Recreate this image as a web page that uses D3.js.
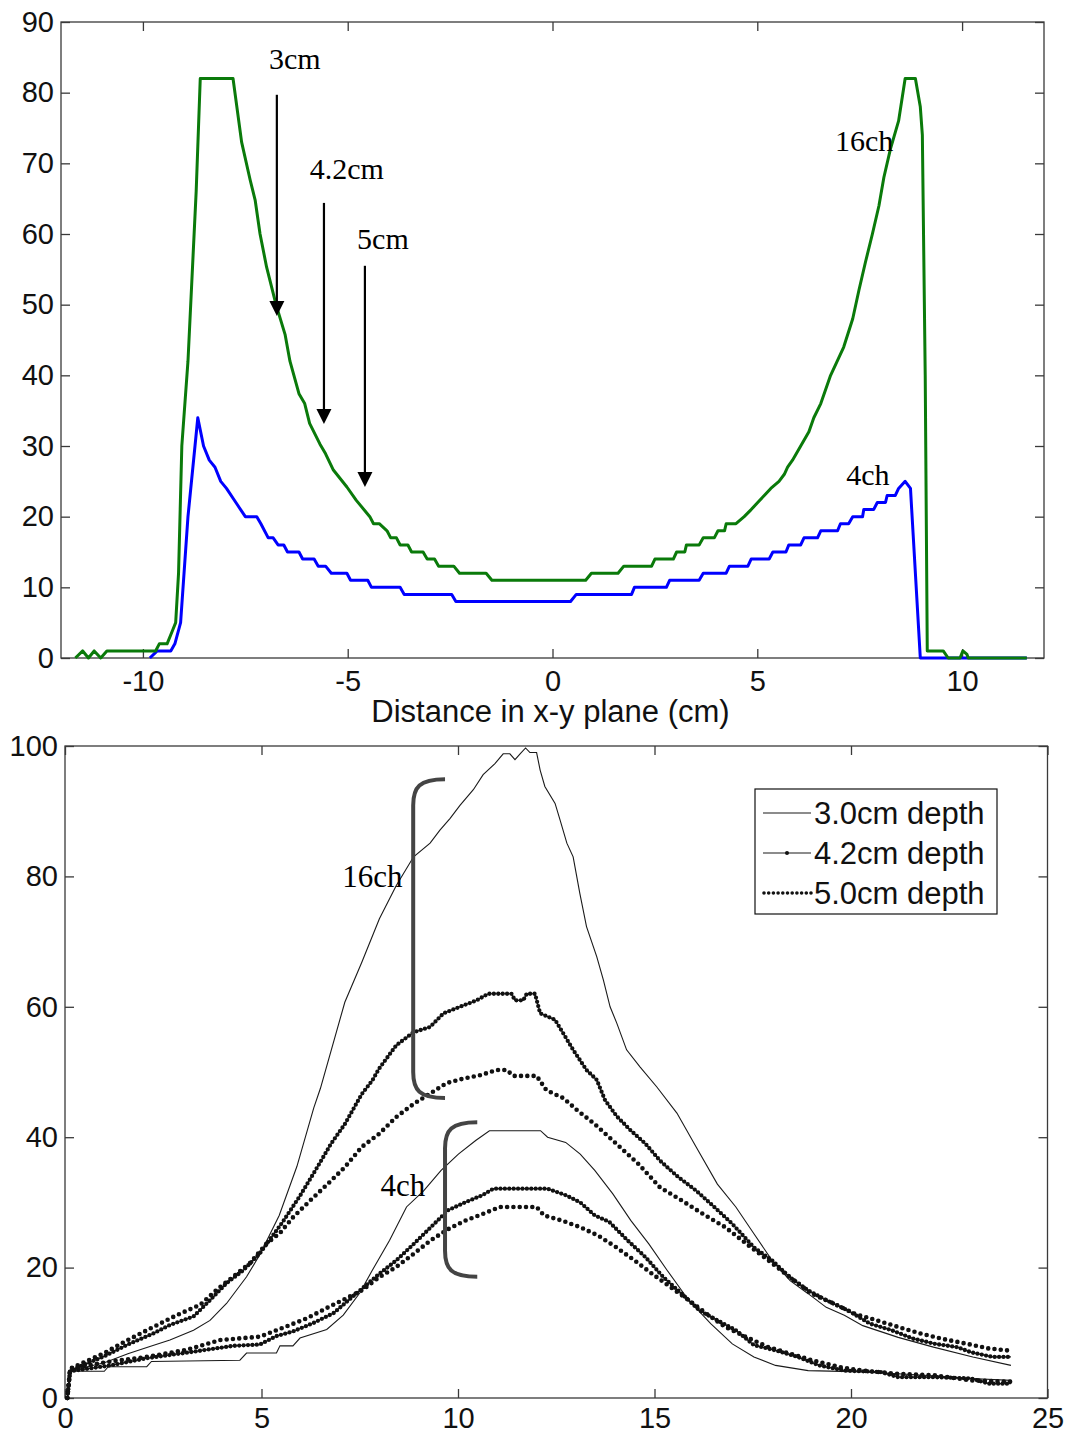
<!DOCTYPE html>
<html><head><meta charset="utf-8">
<script src="https://cdn.jsdelivr.net/npm/d3@7"></script>
<style>body{margin:0;background:#fff} svg{display:block}</style>
</head><body>
<svg id="c" width="1069" height="1435"></svg>
<script>
// ---------- TOP CHART DATA ----------
const topXTicks = [-10, -5, 0, 5, 10];
const topYTicks = [0, 10, 20, 30, 40, 50, 60, 70, 80, 90];
const top16chX = [-11.65,-11.47,-11.33,-11.19,-11.03,-10.88,-9.69,-9.6,-9.41,-9.27,-9.2,-9.13,-9.05,-8.9,-8.7,-8.6,-7.8,-7.59,-7.38,-7.26,-7.14,-6.98,-6.75,-6.53,-6.41,-6.19,-6.05,-5.93,-5.68,-5.54,-5.35,-5.02,-4.79,-4.46,-4.37,-4.23,-4.04,-3.95,-3.81,-3.72,-3.53,-3.44,-3.16,-3.06,-2.88,-2.78,-2.41,-2.27,-1.62,-1.48,0.81,0.95,1.6,1.74,2.42,2.5,2.95,3.03,3.23,3.27,3.58,3.68,3.95,4.04,4.2,4.24,4.48,4.68,4.85,5.01,5.17,5.33,5.53,5.66,5.74,5.86,6.06,6.26,6.38,6.55,6.79,7.11,7.33,7.48,7.64,7.81,7.97,8.09,8.25,8.45,8.61,8.86,8.98,9.03,9.1,9.15,9.54,9.66,9.95,10.02,10.12,10.15,11.58];
const top16chY = [0,1,0,1,0,1,1,2,2,4,5,12,30,42,66,82,82,73,67.6,64.8,60,55.3,50,45.8,42,37.4,36,33.2,30.3,28.9,26.6,24.2,22.3,20,19,19,18,17,17,16,16,15,15,14,14,13,13,12,12,11,11,12,12,13,13,14,14,15,15,16,16,17,17,18,18,19,19,20,21,22,23,24,25,26,27,28,30,32,34,36,40,44,48,52,56,60,64,68,72,76,82,82,78,74,40,1,1,0,0,1,0.5,0,0];
const top4chX = [-9.83,-9.65,-9.32,-9.22,-9.08,-8.9,-8.66,-8.52,-8.38,-8.24,-8.1,-7.96,-7.73,-7.5,-7.22,-7.12,-6.94,-6.82,-6.7,-6.56,-6.47,-6.19,-6.1,-5.82,-5.72,-5.54,-5.4,-5.02,-4.93,-4.51,-4.42,-3.72,-3.62,-2.46,-2.36,0.44,0.58,1.93,2.0,2.78,2.86,3.58,3.68,4.24,4.32,4.77,4.85,5.29,5.38,5.7,5.77,6.06,6.14,6.47,6.55,6.96,7.03,7.23,7.33,7.57,7.6,7.84,7.93,8.13,8.17,8.37,8.45,8.61,8.74,8.98,11.58];
const top4chY = [0,1,1,2,5,20,34,30,28,27,25,24,22,20,20,19,17,17,16,16,15,15,14,14,13,13,12,12,11,11,10,10,9,9,8,8,9,9,10,10,11,11,12,12,13,13,14,14,15,15,16,16,17,17,18,18,19,19,20,20,21,21,22,22,23,23,24,25,24,0,0];
const arrowLabels = ["3cm", "4.2cm", "5cm"];
const arrowX = [-6.73, -5.58, -4.58];
const arrowFrom = [79.7, 64.4, 55.5];
const arrowTo = [48.4, 33.1, 24.2];
const arrowLabelX = [-6.29, -5.02, -4.14];
const arrowLabelY = [84.9, 69.3, 59.3];
const topLabels = ["16ch", "4ch"];
const topLabelX = [7.61, 7.7];
const topLabelY = [73.2, 26.0];

// ---------- BOTTOM CHART DATA ----------
const botXTicks = [0, 5, 10, 15, 20, 25];
const botYTicks = [0, 20, 40, 60, 80, 100];
const ch16_30 = [[0.06,0],[0.13,4.2],[1.0,5.4],[1.6,6.8],[2.16,7.9],[2.67,8.9],[3.27,10.4],[3.69,11.9],[4.11,14.5],[4.62,18.6],[4.96,22],[5.45,28],[5.9,35.5],[6.33,44.5],[6.5,47.5],[7.12,60.7],[7.55,66.8],[8.0,73.5],[8.43,78.6],[8.87,83],[9.29,85.1],[9.54,87.1],[9.8,88.9],[10.05,90.9],[10.39,93.3],[10.64,95.6],[10.94,97.3],[11.15,98.8],[11.32,98.8],[11.45,97.9],[11.58,98.8],[11.72,99.7],[11.83,99],[12.0,99],[12.09,96.3],[12.21,93.8],[12.47,91.2],[12.6,88.6],[12.77,85.1],[12.93,83],[13.1,77.4],[13.27,72.3],[13.53,67.7],[13.7,64.1],[13.87,60],[14.04,57.5],[14.29,53.4],[14.63,50.8],[15.06,47.7],[15.57,43.7],[16.06,38.5],[16.6,32.8],[17.07,29.3],[17.53,25.2],[17.99,21.1],[18.45,18],[18.91,16],[19.37,13.9],[19.83,12.7],[20.3,11.1],[21.2,9.3],[22.1,7.8],[23.1,6.3],[24.07,5.0]];
const ch16_42 = [[0.06,0],[0.13,4.2],[1.0,6.4],[1.6,8.2],[2.25,9.9],[2.67,11.2],[3.27,12.5],[3.69,15],[4.11,17.6],[4.54,19.6],[4.96,22.2],[5.54,27],[5.98,31],[6.42,35.4],[6.77,39],[7.12,42],[7.55,46.6],[7.82,48.7],[7.99,50.5],[8.43,54.1],[8.87,56.1],[9.29,56.9],[9.63,59],[10.05,60],[10.48,61],[10.77,62],[11.36,62],[11.45,61],[11.66,61],[11.75,62],[11.96,62],[12.09,59],[12.47,58],[12.68,55.9],[12.93,53.4],[13.27,50.3],[13.53,48.8],[13.74,45.7],[14.04,43.2],[14.4,41],[14.77,39],[15.14,36.4],[15.6,33.9],[16.06,31.8],[16.52,29.3],[16.98,26.7],[17.53,23.1],[17.99,21.1],[18.45,18.5],[18.91,16.5],[19.37,15],[19.93,13.4],[20.48,11.4],[21.03,10.4],[21.58,9.1],[22.14,8.3],[22.7,7.8],[23.06,7.0],[23.6,6.3],[24.07,6.3]];
const ch16_50 = [[0.06,0],[0.13,4.5],[1.0,6.9],[1.6,8.9],[2.25,10.9],[2.84,12.7],[3.44,14.3],[3.86,16.6],[4.28,18.6],[4.71,20.7],[5.13,23.7],[5.47,25.3],[5.8,27.7],[6.24,30.3],[6.68,32.8],[7.12,35.4],[7.55,38.5],[7.99,40.5],[8.43,43.1],[8.87,45.1],[9.29,46.7],[9.71,48.3],[10.14,49],[10.56,49.5],[10.98,50.3],[11.24,50.3],[11.41,49.4],[12.0,49.4],[12.25,47.2],[12.68,46],[13.02,44.2],[13.48,42],[14.03,39],[14.59,35.9],[15.14,32.3],[15.69,30.3],[16.24,28.2],[16.8,26.2],[17.35,23.6],[17.9,21.1],[18.45,18.5],[19.0,16],[19.56,14.5],[20.1,12.9],[20.66,11.9],[21.2,10.9],[21.76,9.9],[22.3,9.1],[22.96,8.3],[23.5,7.6],[23.98,7.3]];
const ch4_30 = [[0.06,0],[0.13,4.1],[1.0,4.1],[1.1,4.8],[2.08,4.8],[2.2,5.6],[4.45,5.8],[4.62,6.9],[5.38,6.9],[5.47,8],[5.8,8],[5.98,9.2],[6.66,10.5],[7.08,12.7],[7.5,16.1],[7.82,19.6],[8.26,24.2],[8.69,29.3],[9.13,31.8],[9.57,34.9],[10.01,37.4],[10.45,39.5],[10.8,41],[12.1,41],[12.28,40],[12.74,39.2],[13.11,37.4],[13.48,34.9],[13.94,31.3],[14.4,27.2],[14.86,23.6],[15.32,19.6],[15.87,15],[16.43,11.4],[16.98,8.3],[17.53,6.3],[18.08,5.0],[18.91,4.2],[20.3,4.0],[21.86,3.5],[23.06,3.0],[24.07,2.7]];
const ch4_42 = [[0.06,0],[0.13,4.1],[1.16,5.0],[2.08,6.1],[3.27,7.1],[4.28,8],[4.96,8.2],[5.38,9.5],[5.8,10.2],[6.32,11.5],[6.83,13],[7.33,15.6],[7.99,19],[8.43,21.1],[8.87,23.6],[9.31,26.2],[9.75,28.8],[10.18,30],[10.62,31.1],[10.9,32.1],[12.28,32.1],[12.74,31.1],[13.11,30],[13.48,28],[13.85,27],[14.31,24.2],[14.77,21.6],[15.23,18.5],[15.69,16],[16.15,13.4],[16.6,11.9],[17.07,10.4],[17.53,8.1],[18.08,7.3],[18.64,6.3],[19.19,5.0],[19.83,4.2],[20.75,4.0],[21.2,3.2],[22.1,3.2],[23.06,3.0],[23.5,2.2],[24.07,2.2]];
const ch4_50 = [[0.06,0],[0.13,4.5],[1.16,5.6],[2.08,6.3],[3.1,7.4],[3.95,8.9],[4.96,9.4],[5.64,11.0],[6.15,12.2],[6.66,13.8],[7.16,15.3],[7.55,16.5],[7.99,18.5],[8.43,20.1],[8.87,22.1],[9.31,24.2],[9.75,25.9],[10.18,27.2],[10.62,28.2],[11.06,29.3],[12.0,29.3],[12.19,28],[12.65,27.2],[13.11,26.2],[13.57,24.9],[14.03,23.1],[14.49,21.1],[14.95,19],[15.41,17],[15.87,15],[16.33,12.9],[16.8,10.9],[17.35,9.3],[17.9,7.8],[18.45,6.8],[19.0,5.8],[19.74,4.7],[20.3,4.2],[21.2,3.7],[22.1,3.5],[23.06,2.7],[24.07,2.5]];
const legendLabels = ["3.0cm depth", "4.2cm depth", "5.0cm depth"];
const botLabels = ["16ch", "4ch"];
const botLabelX = [7.82, 8.6];
const botLabelY = [80, 32.7];
const bracketX = [8.86, 9.67];      // vertical stroke
const bracketEndX = [9.67, 10.49];  // hook ends
const bracketTop = [94.9, 42.3];
const bracketBot = [46.0, 18.6];

// ---------- DRAWING ----------
const svg = d3.select('#c');
const AX = '#3a3a3a';
const SANS = '"Liberation Sans", Arial, Helvetica, sans-serif';
const SERIF = '"Liberation Serif", "Times New Roman", serif';

function frame(x, y, xTicks, yTicks, fs, yPad, xPad) {
  const [x0, x1] = x.range(), [y0, y1] = y.range();
  const g = svg.append('g');
  g.append('rect').attr('x', x0).attr('y', y1).attr('width', x1 - x0).attr('height', y0 - y1)
    .attr('fill', 'none').attr('stroke', AX).attr('stroke-width', 1.3);
  const fmt = d => String(d);
  const style = s => {
    s.select('.domain').remove();
    s.selectAll('.tick line').attr('stroke', AX).attr('stroke-width', 1.3);
    s.selectAll('.tick text').attr('fill', '#111').style('font-family', SANS).style('font-size', fs + 'px');
  };
  g.append('g').attr('transform', `translate(0,${y0})`)
    .call(d3.axisBottom(x).tickValues(xTicks).tickSize(-9).tickPadding(xPad).tickFormat(fmt)).call(style);
  g.append('g').attr('transform', `translate(0,${y1})`)
    .call(d3.axisTop(x).tickValues(xTicks).tickSize(-9).tickFormat('')).call(style);
  g.append('g').attr('transform', `translate(${x0},0)`)
    .call(d3.axisLeft(y).tickValues(yTicks).tickSize(-9).tickPadding(yPad).tickFormat(fmt)).call(style);
  g.append('g').attr('transform', `translate(${x1},0)`)
    .call(d3.axisRight(y).tickValues(yTicks).tickSize(-9).tickFormat('')).call(style);
  return g;
}

// Top chart
const xT = d3.scaleLinear().domain([-12, 12]).range([61, 1044]);
const yT = d3.scaleLinear().domain([0, 90]).range([658, 22]);
frame(xT, yT, topXTicks, topYTicks, 29, 7, 12);

const lineT = d3.line().x(d => xT(d[0])).y(d => yT(d[1]));
const g16 = d3.zip(top16chX, top16chY);
const g4 = d3.zip(top4chX, top4chY);
svg.append('path').attr('d', lineT(g4)).attr('fill', 'none').attr('stroke', '#0000ff')
  .attr('stroke-width', 3).attr('stroke-linejoin', 'round');
svg.append('path').attr('d', lineT(g16)).attr('fill', 'none').attr('stroke', '#0a7a0a')
  .attr('stroke-width', 3).attr('stroke-linejoin', 'round');

svg.append('text').attr('x', (xT.range()[0] + xT.range()[1]) / 2 - 2).attr('y', 722)
  .attr('text-anchor', 'middle').style('font-family', SANS).style('font-size', '31px').attr('fill', '#111')
  .text('Distance in x-y plane (cm)');

// arrows
arrowLabels.forEach((lab, i) => {
  const ax = xT(arrowX[i]), yf = yT(arrowFrom[i]), yt = yT(arrowTo[i]);
  svg.append('line').attr('x1', ax).attr('x2', ax).attr('y1', yf).attr('y2', yt - 12)
    .attr('stroke', '#000').attr('stroke-width', 2.2);
  svg.append('path').attr('d', `M${ax - 7.5},${yt - 15} L${ax + 7.5},${yt - 15} L${ax},${yt} Z`).attr('fill', '#000');
  svg.append('text').attr('x', xT(arrowLabelX[i])).attr('y', yT(arrowLabelY[i])).attr('dy', '0.35em')
    .attr('text-anchor', 'middle').style('font-family', SERIF).style('font-size', '30px').attr('fill', '#000').text(lab);
});
topLabels.forEach((lab, i) => {
  svg.append('text').attr('x', xT(topLabelX[i])).attr('y', yT(topLabelY[i])).attr('dy', '0.35em')
    .attr('text-anchor', 'middle').style('font-family', SERIF).style('font-size', '30px').attr('fill', '#000').text(lab);
});

// Bottom chart
const xB = d3.scaleLinear().domain([0, 25]).range([65, 1047.5]);
const yB = d3.scaleLinear().domain([0, 100]).range([1398, 746]);
frame(xB, yB, botXTicks, botYTicks, 29, 7, 9);

const lineB = d3.line().x(d => xB(d[0])).y(d => yB(d[1]));
function solid(data) {
  svg.append('path').attr('d', lineB(data)).attr('fill', 'none').attr('stroke', '#1a1a1a').attr('stroke-width', 1.1);
}
function lineDots(data) {
  svg.append('path').attr('d', lineB(data)).attr('fill', 'none').attr('stroke', '#1a1a1a').attr('stroke-width', 1.2);
  svg.append('path').attr('d', lineB(data)).attr('fill', 'none').attr('stroke', '#111').attr('stroke-width', 4.3)
    .attr('stroke-linecap', 'round').attr('stroke-dasharray', '0 4.4');
}
function dots(data) {
  svg.append('path').attr('d', lineB(data)).attr('fill', 'none').attr('stroke', '#111').attr('stroke-width', 4.6)
    .attr('stroke-linecap', 'round').attr('stroke-dasharray', '0 6.3');
}
solid(ch16_30); lineDots(ch16_42); dots(ch16_50);
solid(ch4_30); lineDots(ch4_42); dots(ch4_50);

// brackets
bracketX.forEach((bx, i) => {
  const x1 = xB(bx), x2 = xB(bracketEndX[i]), yt = yB(bracketTop[i]), yb = yB(bracketBot[i]);
  const r = 26;
  svg.append('path')
    .attr('d', `M${x2},${yt} C${x1 + 6},${yt} ${x1},${yt + 8} ${x1},${yt + r} L${x1},${yb - r} C${x1},${yb - 8} ${x1 + 6},${yb} ${x2},${yb}`)
    .attr('fill', 'none').attr('stroke', '#444').attr('stroke-width', 4);
});
botLabels.forEach((lab, i) => {
  svg.append('text').attr('x', xB(botLabelX[i])).attr('y', yB(botLabelY[i])).attr('dy', '0.35em')
    .attr('text-anchor', 'middle').style('font-family', SERIF).style('font-size', '31px').attr('fill', '#000').text(lab);
});

// legend
const lg = svg.append('g').attr('transform', 'translate(755,789)');
lg.append('rect').attr('width', 242).attr('height', 125).attr('fill', '#fff').attr('stroke', '#111').attr('stroke-width', 1.2);
legendLabels.forEach((lab, i) => {
  const yy = 24 + i * 40;
  if (i === 0) {
    lg.append('line').attr('x1', 8).attr('x2', 56).attr('y1', yy).attr('y2', yy).attr('stroke', '#1a1a1a').attr('stroke-width', 1.1);
  } else if (i === 1) {
    lg.append('line').attr('x1', 8).attr('x2', 56).attr('y1', yy).attr('y2', yy).attr('stroke', '#1a1a1a').attr('stroke-width', 1.1);
    lg.append('circle').attr('cx', 32).attr('cy', yy).attr('r', 2).attr('fill', '#111');
  } else {
    lg.append('line').attr('x1', 9).attr('x2', 56).attr('y1', yy).attr('y2', yy).attr('stroke', '#111')
      .attr('stroke-width', 3.6).attr('stroke-linecap', 'round').attr('stroke-dasharray', '0 4.7');
  }
  lg.append('text').attr('x', 59).attr('y', yy).attr('dy', '0.36em').style('font-family', SANS)
    .style('font-size', '31px').attr('fill', '#111').text(lab);
});
</script>
</body></html>
